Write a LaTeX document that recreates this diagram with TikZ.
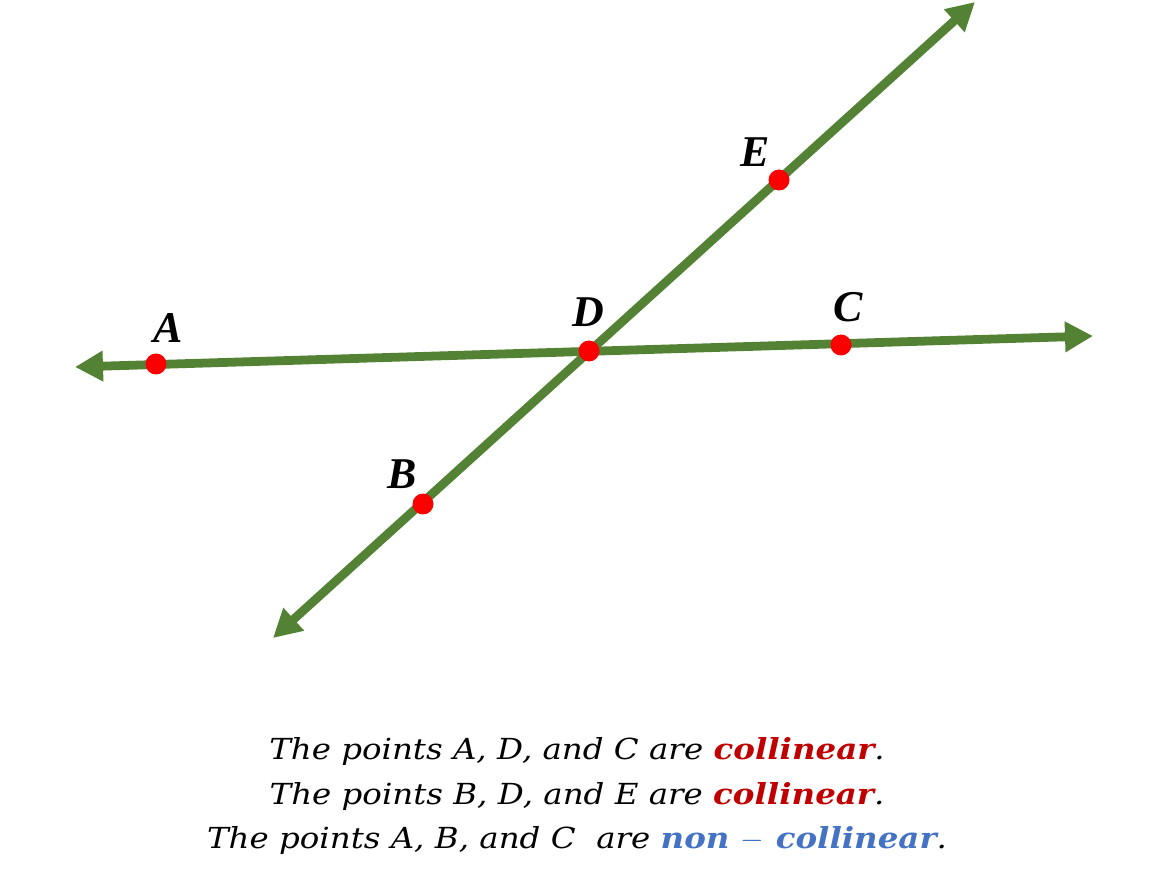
\documentclass[tikz,border=0pt]{standalone}
\usepackage{fontspec}
\setmainfont{Liberation Serif}
\newfontfamily\capfont[FakeStretch=1.12]{DejaVu Serif}
\usepackage{xcolor}
\usetikzlibrary{arrows.meta,positioning}

\definecolor{linegreen}{RGB}{84,130,53}
\definecolor{ptred}{RGB}{250,0,0}
\definecolor{colred}{RGB}{192,0,0}
\definecolor{colblue}{RGB}{68,114,196}

\tikzset{
  ray/.style={draw=linegreen, line width=5pt,
    {Triangle[length=0.56cm,width=0.58cm]}-{Triangle[length=0.56cm,width=0.58cm]}},
  dot/.style={circle, fill=ptred, inner sep=0pt, minimum size=0.42cm},
  ptlabel/.style={font=\fontsize{25}{25}\selectfont\bfseries\itshape},
  caption/.style={font=\capfont\fontsize{16.5}{25.5}\selectfont\itshape, align=center}
}

\begin{document}
\begin{tikzpicture}[x=0.02cm,y=0.02cm]
    \useasboundingbox (0,0) rectangle (1170,873);

    % ends of the two lines
    \coordinate (hleft) at (75,506);
    \coordinate (hright) at (1093,537);
    \coordinate (dleft) at (273,235);
    \coordinate (dright) at (975,871);

    % the two lines
    \draw[ray] (hleft) -- (hright);
    \draw[ray] (dleft) -- (dright);

    % points on the lines
    \node[dot] (A) at (156,509) {};
    \node[dot] (D) at (589,522) {};
    \node[dot] (C) at (841,528) {};
    \node[dot] (B) at (423,369) {};
    \node[dot] (E) at (779,693) {};

    % point labels
    \node[ptlabel] (labA) at (168,545) {A};
    \node[ptlabel] (labD) at (588,561) {D};
    \node[ptlabel] (labC) at (848,566) {C};
    \node[ptlabel] (labB) at (402,399) {B};
    \node[ptlabel] (labE) at (755,721) {E};

    % statements
    \node[caption] (text) at (577,77) {%
      The points A, D, and C are \textcolor{colred}{\bfseries collinear}.\\
      The points B, D, and E are \textcolor{colred}{\bfseries collinear}.\\
      The points A, B, and C \ are \textcolor{colblue}{\bfseries non $-$ collinear}.};
\end{tikzpicture}
\end{document}
